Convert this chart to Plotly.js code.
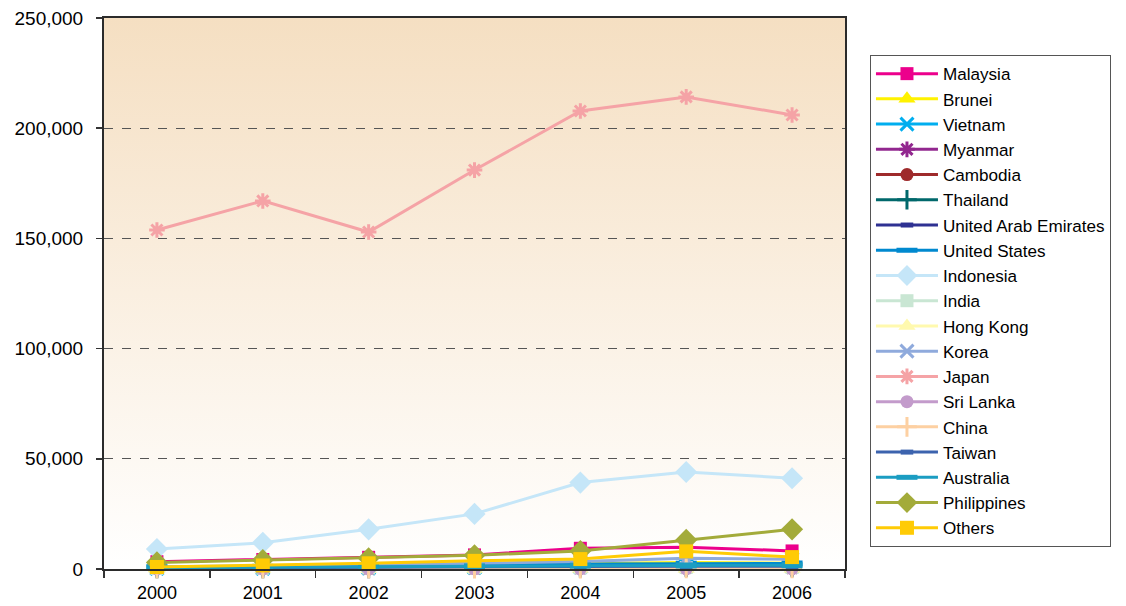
<!DOCTYPE html>
<html>
<head>
<meta charset="utf-8">
<script src="https://cdn.plot.ly/plotly-3.0.1.min.js"></script>
<style>html,body{margin:0;padding:0;background:#fff;}#chart{width:1126px;height:606px;}</style>
</head>
<body>
<div id="chart"></div>
<script>
// Categories (years)
const years = ["2000", "2001", "2002", "2003", "2004", "2005", "2006"];

// Series names (legend order)
const seriesNames = [
  "Malaysia", "Brunei", "Vietnam", "Myanmar", "Cambodia", "Thailand",
  "United Arab Emirates", "United States", "Indonesia", "India",
  "Hong Kong", "Korea", "Japan", "Sri Lanka", "China", "Taiwan",
  "Australia", "Philippines", "Others"
];

// Series values
const malaysia    = [3300, 4300, 5300, 6400, 9400, 9900, 8200];
const brunei      = [500, 800, 1200, 2000, 2400, 2900, 2600];
const vietnam     = [200, 300, 400, 600, 900, 1300, 1200];
const myanmar     = [100, 100, 200, 300, 400, 600, 500];
const cambodia    = [100, 100, 100, 200, 300, 400, 400];
const thailand    = [200, 200, 300, 400, 600, 800, 700];
const uae         = [300, 400, 500, 800, 1000, 1200, 1100];
const usa         = [800, 1000, 1200, 1800, 2300, 2400, 2500];
const indonesia   = [9100, 11900, 18000, 25000, 39200, 44000, 41200];
const india       = [200, 300, 400, 500, 600, 700, 700];
const hongkong    = [50, 50, 50, 50, 50, 50, 50];
const korea       = [1000, 1300, 1700, 2600, 3400, 4900, 4400];
const japan       = [153800, 167000, 152900, 181000, 207800, 214200, 206000];
const srilanka    = [80, 80, 80, 80, 80, 80, 80];
const china       = [100, 100, 100, 150, 150, 200, 200];
const taiwan      = [400, 500, 600, 900, 1100, 1300, 1200];
const australia   = [600, 700, 900, 1200, 1500, 1600, 1700];
const philippines = [3000, 4100, 4900, 6200, 8200, 13200, 18000];
const others      = [900, 1600, 2600, 3700, 4500, 8000, 5400];

const seriesValues = [malaysia, brunei, vietnam, myanmar, cambodia, thailand, uae, usa,
  indonesia, india, hongkong, korea, japan, srilanka, china, taiwan, australia, philippines, others];

// Styles
const styles = [
  {c:"#EC008C", s:"square", z:13},
  {c:"#FFF200", s:"triangle-up", z:15},
  {c:"#00AEEF", s:"x-thin-open", z:13, lw:3},
  {c:"#92278F", s:"asterisk-open", z:13, lw:3},
  {c:"#9E2A2B", s:"circle", z:13},
  {c:"#00686B", s:"cross-thin-open", z:14, lw:3},
  {c:"#2E3192", s:"line-ew-open", z:9, lw:6},
  {c:"#0089CF", s:"line-ew-open", z:15, lw:6},
  {c:"#C5E6F8", s:"diamond", z:17},
  {c:"#C9E6D3", s:"square", z:13},
  {c:"#FFF9AE", s:"triangle-up", z:15},
  {c:"#8FAADC", s:"x-thin-open", z:13, lw:3},
  {c:"#F5A3A6", s:"asterisk-open", z:13, lw:3},
  {c:"#C39BCB", s:"circle", z:13},
  {c:"#FDD0A2", s:"cross-thin-open", z:14, lw:3},
  {c:"#3C63AE", s:"line-ew-open", z:9, lw:6},
  {c:"#1B9DC2", s:"line-ew-open", z:15, lw:6},
  {c:"#A3AB3A", s:"diamond", z:17},
  {c:"#FFCB05", s:"square", z:14}
];

const traces = seriesNames.map((name, i) => {
  const st = styles[i];
  const mk = {symbol: st.s, size: st.z, color: st.c};
  if (st.lw) mk.line = {color: st.c, width: st.lw};
  return {
    type: "scatter", mode: "lines+markers", name: name,
    x: years, y: seriesValues[i],
    line: {color: st.c, width: 3},
    marker: mk, cliponaxis: false
  };
});

const gradSvg = '<svg xmlns="http://www.w3.org/2000/svg" width="10" height="100" preserveAspectRatio="none">' +
  '<defs><linearGradient id="g" x1="0" y1="0" x2="0" y2="1">' +
  '<stop offset="0" stop-color="#F5DFC2"/><stop offset="1" stop-color="#FFFFFF"/></linearGradient></defs>' +
  '<rect width="10" height="100" fill="url(#g)"/></svg>';
const gradUri = "data:image/svg+xml;charset=utf-8," + encodeURIComponent(gradSvg);

const layout = {
  width: 1126, height: 606,
  margin: {l: 104, r: 281, t: 18, b: 37, autoexpand: false},
  paper_bgcolor: "#FFFFFF",
  plot_bgcolor: "rgba(0,0,0,0)",
  font: {family: "Liberation Sans, Arial, sans-serif", color: "#000000", size: 19},
  showlegend: true,
  images: [{source: gradUri, xref: "paper", yref: "paper", x: 0, y: 1, sizex: 1, sizey: 1,
            xanchor: "left", yanchor: "top", sizing: "stretch", layer: "below"}],
  xaxis: {
    type: "category", range: [-0.5, 6.5], tickson: "boundaries",
    ticks: "outside", ticklen: 7, tickwidth: 1.5, tickcolor: "#333",
    showline: true, linecolor: "#2b2b2b", linewidth: 2, mirror: true,
    showgrid: false, zeroline: false, ticklabelstandoff: 6,
    tickfont: {size: 18}
  },
  yaxis: {
    range: [0, 250000], dtick: 50000, tick0: 0, tickformat: ",d",
    ticks: "outside", ticklen: 6, tickwidth: 1.5, tickcolor: "#333",
    showline: true, linecolor: "#2b2b2b", linewidth: 2, mirror: true,
    showgrid: true, gridcolor: "#555555", gridwidth: 1, griddash: "dash",
    zeroline: false, ticklabelstandoff: 9,
    tickfont: {size: 19}
  },
  legend: {
    x: 1.0337, y: 0.9328, xanchor: "left", yanchor: "top",
    bgcolor: "#FFFFFF", bordercolor: "#555555", borderwidth: 1,
    font: {size: 17.1}, itemwidth: 62, traceorder: "normal", tracegroupgap: 0
  }
};

Plotly.newPlot("chart", traces, layout, {displayModeBar: false, staticPlot: true});
</script>
</body>
</html>
